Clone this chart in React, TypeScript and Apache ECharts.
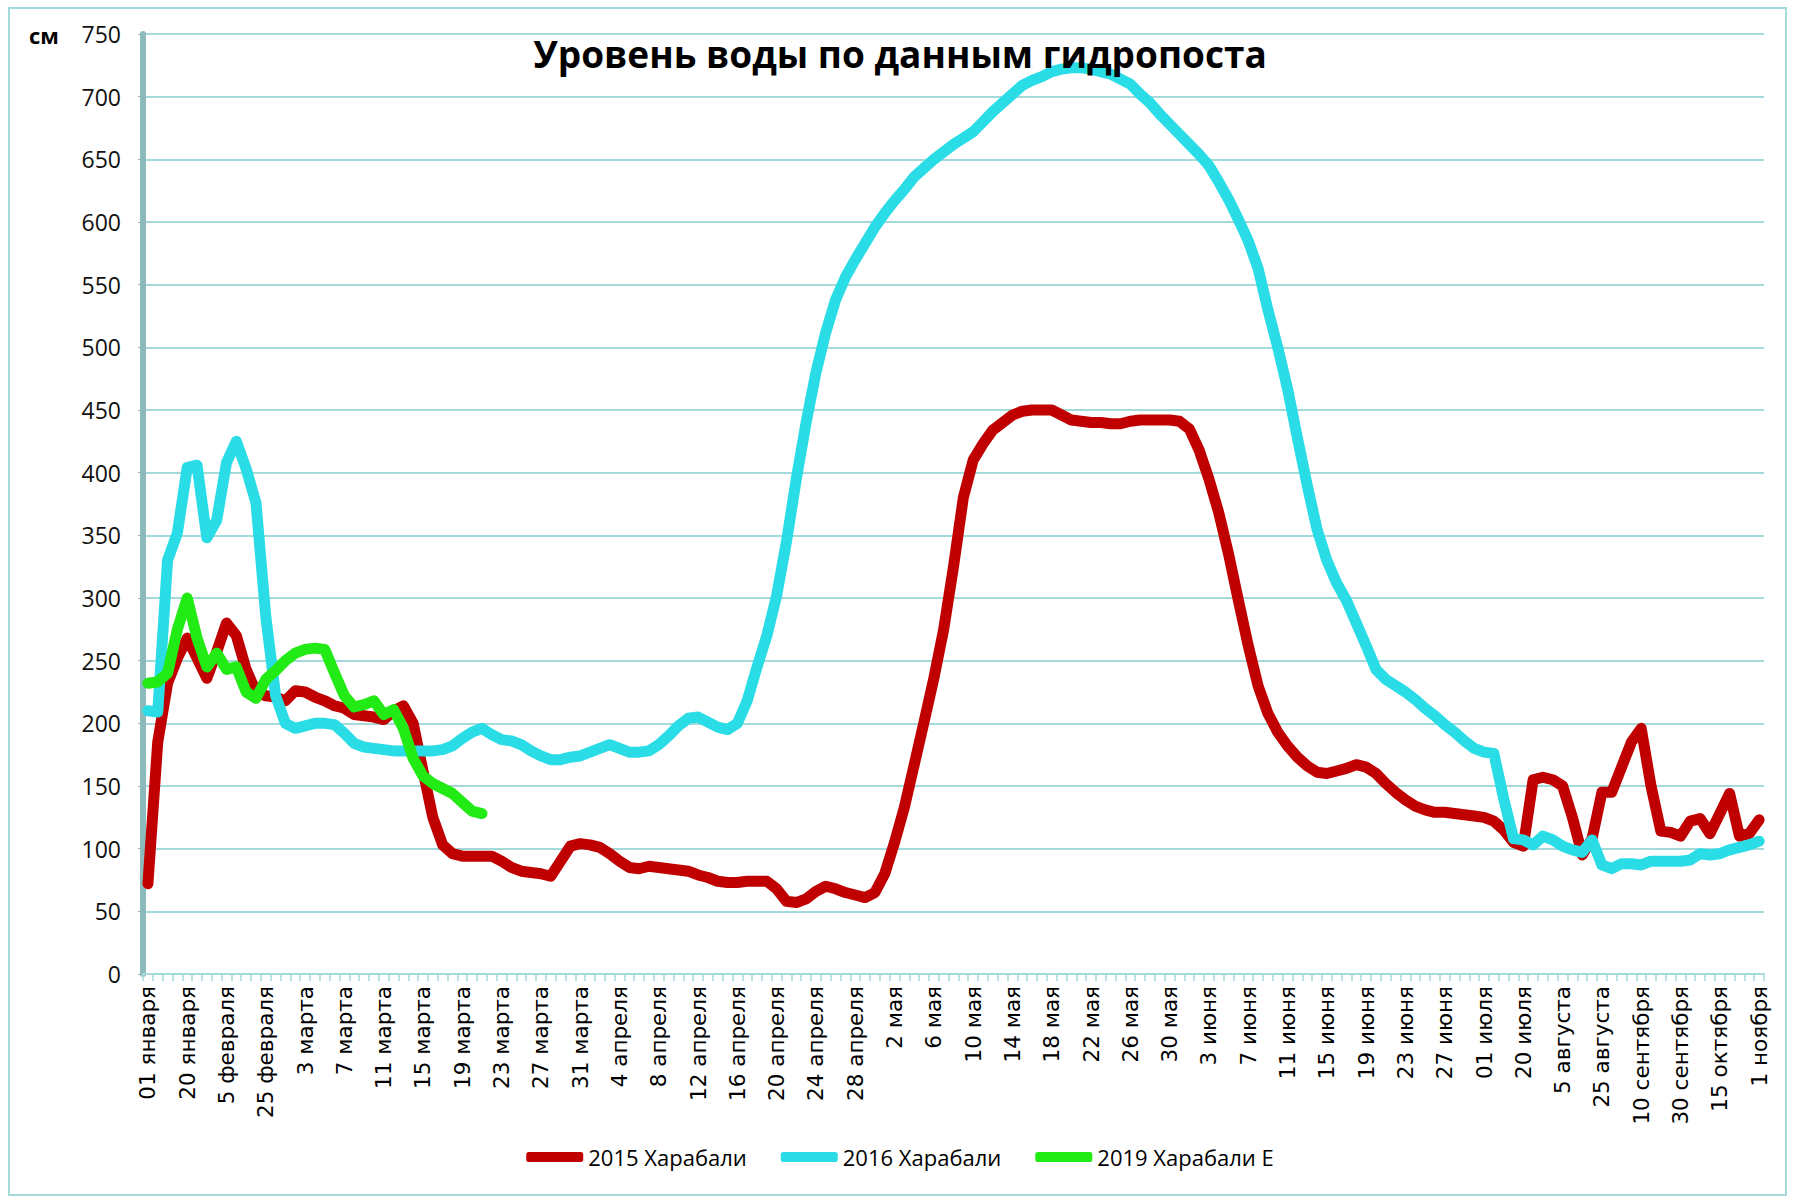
import { useEffect, useRef } from "react";
import * as echarts from "echarts";

const tickLabels = [
  "01 января", "20 января", "5 февраля", "25 февраля", "3 марта", "7 марта", "11 марта",
  "15 марта", "19 марта", "23 марта", "27 марта", "31 марта", "4 апреля", "8 апреля",
  "12 апреля", "16 апреля", "20 апреля", "24 апреля", "28 апреля", "2 мая", "6 мая",
  "10 мая", "14 мая", "18 мая", "22 мая", "26 мая", "30 мая", "3 июня", "7 июня",
  "11 июня", "15 июня", "19 июня", "23 июня", "27 июня", "01 июля", "20 июля",
  "5 августа", "25 августа", "10 сентября", "30 сентября", "15 октября", "1 ноября",
];

const seriesNames = ["2015 Харабали", "2016 Харабали", "2019 Харабали Е"];

const red2015 = [
  72, 185, 232, 252, 268, 252, 236, 257, 280, 270,
  243, 225, 222, 221, 218, 226, 225, 221, 218, 214,
  212, 207, 206, 205, 203, 210, 214, 200, 162, 125,
  103, 96, 94, 94, 94, 94, 90, 85, 82, 81,
  80, 78, 90, 102, 104, 103, 101, 96, 90, 85,
  84, 86, 85, 84, 83, 82, 79, 77, 74, 73,
  73, 74, 74, 74, 68, 58, 57, 60, 66, 70,
  68, 65, 63, 61, 65, 80, 105, 133, 167, 201,
  236, 275, 325, 380, 410, 423, 434, 440, 446, 449,
  450, 450, 450, 446, 442, 441, 440, 440, 439, 439,
  441, 442, 442, 442, 442, 441, 435, 418, 395, 368,
  335, 298, 262, 230, 208, 193, 182, 173, 166, 161,
  160, 162, 164, 167, 165, 160, 152, 145, 139, 134,
  131, 129, 129, 128, 127, 126, 125, 122, 115, 105,
  102, 155, 157, 155, 150, 125, 95, 108, 145, 145,
  165, 185, 196, 150, 114, 113, 110, 122, 124, 112,
  128, 144, 110, 112, 123,
];

const cyan2016 = [
  210, 209, 330, 352, 404, 406, 348, 362, 408, 425,
  403, 376, 285, 222, 200, 196, 198, 200, 200, 199,
  192, 184, 181, 180, 179, 178, 178, 178, 178, 178,
  179, 182, 188, 193, 196, 191, 187, 186, 183, 178,
  174, 171, 171, 173, 174, 177, 180, 183, 180, 177,
  177, 178, 183, 190, 198, 204, 205, 201, 197, 195,
  200, 218, 245, 270, 302, 345, 395, 440, 480, 512,
  538, 556, 570, 583, 596, 607, 617, 626, 636, 643,
  650, 656, 662, 667, 672, 680, 688, 695, 702, 709,
  713, 716, 720, 722, 723, 723, 722, 720, 718, 714,
  710, 702, 695, 686, 678, 670, 662, 654, 645, 632,
  618, 602, 585, 563, 530, 500, 467, 428, 390, 355,
  330, 312, 298, 280, 262, 243, 235, 230, 225, 219,
  212, 206, 199, 193, 186, 180, 177, 176, 140, 108,
  107, 103, 110, 107, 102, 99, 97, 107, 87, 84,
  88, 88, 87, 90, 90, 90, 90, 91, 96, 95,
  96, 99, 101, 103, 106,
];

const green2019 = [
  232, 233, 240, 275, 300, 268, 245, 256, 243, 245,
  225, 220, 235, 242, 250, 256, 259, 260, 259, 240,
  222, 213, 215, 218, 207, 211, 196, 172, 158, 152,
  148, 144, 137, 130, 128,
];

const categories: string[] = [];
tickLabels.forEach((label, k) => {
  categories.push(label);
  if (k < tickLabels.length - 1) categories.push("", "", "");
});

const GRID_COLOR = "#A4DADA";

export default function App() {
  const ref = useRef<HTMLDivElement>(null);
  useEffect(() => {
    if (!ref.current) return;
    const chart = echarts.init(ref.current, null, { renderer: "svg" });
    const colors = ["#C00000", "#29DCE6", "#22EA14"];
    const datas = [red2015, cyan2016, green2019];
    chart.setOption({
      animation: false,
      backgroundColor: "#ffffff",
      title: {
        text: "Уровень воды по данным гидропоста",
        left: "center",
        top: 30,
        textStyle: { fontFamily: "Open Sans", fontWeight: "bold", fontSize: 37, color: "#000" },
      },
      legend: {
        data: seriesNames,
        left: "center",
        top: 1141,
        icon: "roundRect",
        itemWidth: 57,
        itemHeight: 10,
        itemGap: 34,
        textStyle: { fontFamily: "Open Sans", fontSize: 22, color: "#000" },
      },
      grid: { left: 143, right: 36, top: 34, bottom: 230 },
      xAxis: {
        type: "category",
        data: categories,
        boundaryGap: true,
        axisLine: { lineStyle: { color: GRID_COLOR, width: 2 } },
        axisTick: { show: true, interval: 0, length: 7, lineStyle: { color: GRID_COLOR, width: 1.5 } },
        axisLabel: { interval: 0, rotate: 90, margin: 12, fontFamily: "DejaVu Sans", fontSize: 21.5, color: "#000" },
        splitLine: { show: false },
      },
      yAxis: {
        type: "value",
        min: 0,
        max: 750,
        interval: 50,
        axisLine: { show: true, lineStyle: { color: "#8DBABA", width: 6 } },
        axisTick: { show: true, length: 5, lineStyle: { color: "#8DBABA" } },
        axisLabel: { margin: 22, fontFamily: "Open Sans", fontSize: 23, color: "#111" },
        splitLine: { lineStyle: { color: GRID_COLOR, width: 2 } },
      },
      graphic: [
        {
          type: "rect",
          shape: { x: 9, y: 8, width: 1777, height: 1187 },
          style: { fill: "none", stroke: GRID_COLOR, lineWidth: 2 },
          silent: true,
        },
        {
          type: "text",
          x: 29,
          y: 24,
          style: { text: "см", fontFamily: "Open Sans", fontWeight: "bold", fontSize: 22, fill: "#000" },
        },
      ],
      series: seriesNames.map((name, i) => ({
        name,
        type: "line",
        data: datas[i],
        showSymbol: false,
        symbol: "none",
        color: colors[i],
        lineStyle: { width: 11, color: colors[i], cap: "round", join: "round" },
        z: 2 + i,
      })),
    });
    return () => chart.dispose();
  }, []);
  return (
    <div
      ref={ref}
      style={{ position: "absolute", left: 0, top: 0, width: 1800, height: 1204 }}
    />
  );
}
